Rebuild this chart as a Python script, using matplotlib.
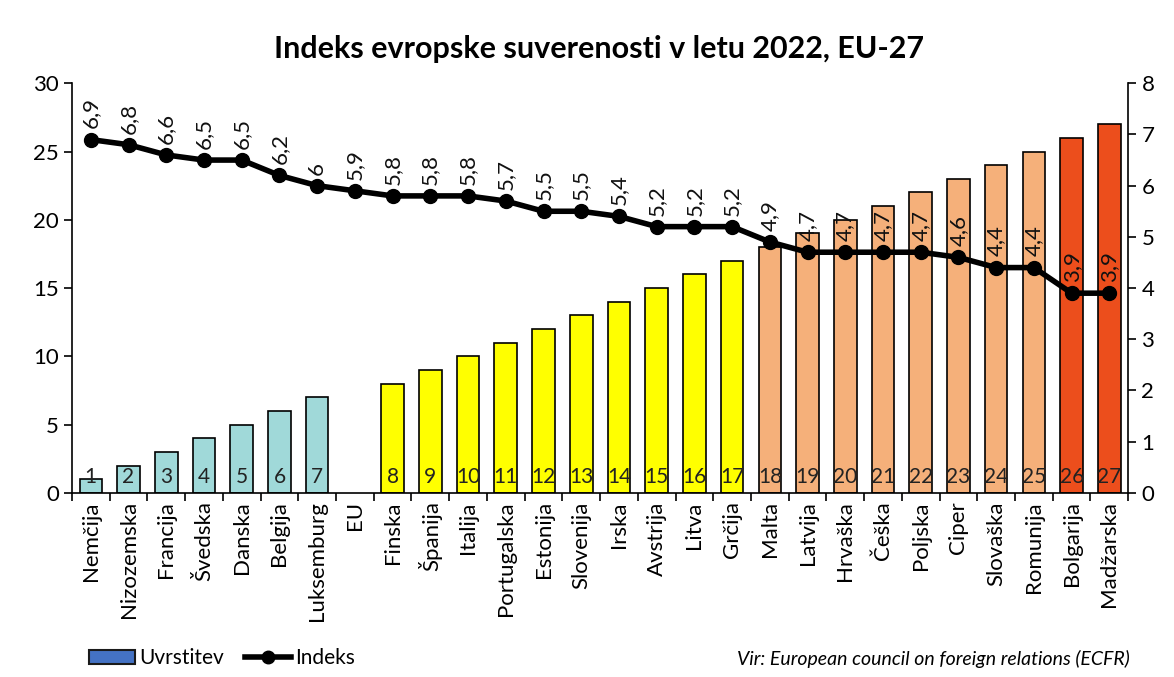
import numpy as np
import matplotlib
matplotlib.use('Agg')
import matplotlib.pyplot as plt
from matplotlib.patches import Patch
from matplotlib.lines import Line2D

plt.rcParams['font.family'] = ['Lato', 'DejaVu Sans']

drzave = ['Nemčija', 'Nizozemska', 'Francija', 'Švedska', 'Danska', 'Belgija', 'Luksemburg', 'EU',
          'Finska', 'Španija', 'Italija', 'Portugalska', 'Estonija', 'Slovenija', 'Irska', 'Avstrija',
          'Litva', 'Grčija', 'Malta', 'Latvija', 'Hrvaška', 'Češka', 'Poljska', 'Ciper', 'Slovaška',
          'Romunija', 'Bolgarija', 'Madžarska']
# uvrstitev (EU nima stolpca)
uvrstitev = [1, 2, 3, 4, 5, 6, 7, np.nan, 8, 9, 10, 11, 12, 13, 14, 15, 16, 17, 18, 19, 20, 21, 22,
             23, 24, 25, 26, 27]
indeks = [6.9, 6.8, 6.6, 6.5, 6.5, 6.2, 6.0, 5.9, 5.8, 5.8, 5.8, 5.7, 5.5, 5.5, 5.4, 5.2, 5.2, 5.2,
          4.9, 4.7, 4.7, 4.7, 4.7, 4.6, 4.4, 4.4, 3.9, 3.9]

def barva(r):
    if r <= 7:
        return '#a0d9d9'
    if r <= 17:
        return '#ffff00'
    if r <= 25:
        return '#f5b07a'
    return '#ec4e1c'

def fmt(v):
    s = ('%.1f' % v).rstrip('0').rstrip('.')
    return s.replace('.', ',')

fig = plt.figure(figsize=(11.74, 6.77), dpi=100)
ax = fig.add_axes([0.0613, 0.272, 0.8997, 0.605])
x = np.arange(len(drzave))

for i, r in enumerate(uvrstitev):
    if np.isnan(r):
        continue
    ax.bar(x[i], r, width=0.6, color=barva(r), edgecolor='black', linewidth=1.2, zorder=2)
    ax.text(x[i], 0.4, str(int(r)), ha='center', va='bottom', fontsize=15, color='#222222', zorder=3)

ax.set_ylim(0, 30)
ax.set_xlim(-0.5, len(drzave) - 0.5)
ax.set_yticks(range(0, 31, 5))
ax.set_xticks(x)
ax.set_xticklabels(drzave, rotation=90, fontsize=16)
ax.set_xticks(np.arange(-0.5, len(drzave), 1), minor=True)
ax.tick_params(axis='x', which='major', length=0, pad=6)
ax.tick_params(axis='x', which='minor', length=6, width=1.2, direction='out')
ax.tick_params(axis='y', labelsize=16, length=6, width=1.2, direction='out')
for s in ['top', 'right']:
    ax.spines[s].set_visible(False)
ax.spines['left'].set_linewidth(1.2)
ax.spines['bottom'].set_linewidth(1.2)

ax2 = ax.twinx()
ax2.plot(x, indeks, color='black', linewidth=4, marker='o', markersize=10, zorder=5)
for i, v in enumerate(indeks):
    ax2.annotate(fmt(v), (x[i], v), xytext=(0, 8), textcoords='offset points',
                 rotation=90, ha='center', va='bottom', fontsize=16, color='#111111')
ax2.set_ylim(0, 8)
ax2.set_yticks(range(0, 9))
ax2.tick_params(axis='y', labelsize=16, length=6, width=1.2, direction='out')
for s in ['top', 'left', 'bottom']:
    ax2.spines[s].set_visible(False)
ax2.spines['right'].set_linewidth(1.2)

fig.text(0.51, 0.927, 'Indeks evropske suverenosti v letu 2022, EU-27', ha='center', va='center',
         fontsize=22, fontweight='bold')

handles = [Patch(facecolor='#4472c4', edgecolor='#1a1a1a', linewidth=1.5),
           Line2D([0], [0], color='black', linewidth=4, marker='o', markersize=9)]
fig.legend(handles, ['Uvrstitev', 'Indeks'], loc='lower left', bbox_to_anchor=(0.06, -0.015),
           ncol=2, frameon=False, fontsize=15, handlelength=2.2, handletextpad=0.2, columnspacing=1.0)
fig.text(0.962, 0.027, 'Vir: European council on foreign relations (ECFR)', ha='right', va='center',
         fontsize=14, style='italic')

fig.savefig('out.png', dpi=100)
